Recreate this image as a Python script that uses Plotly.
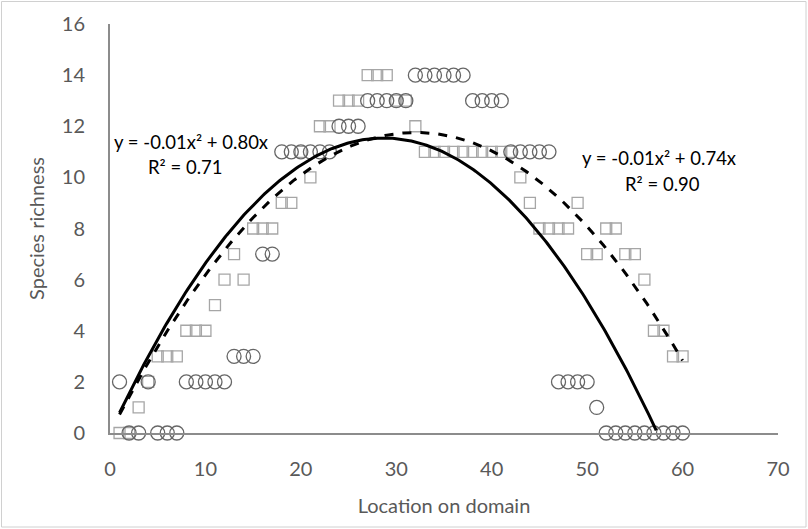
import numpy as np
import plotly.graph_objects as go

# ---- data ----
location = list(range(1, 61))

# circles (solid trend line)
richness_circles = [2, 0, 0, 2, 0, 0, 0, 2, 2, 2,
                    2, 2, 3, 3, 3, 7, 7, 11, 11, 11,
                    11, 11, 11, 12, 12, 12, 13, 13, 13, 13,
                    13, 14, 14, 14, 14, 14, 14, 13, 13, 13,
                    13, 11, 11, 11, 11, 11, 2, 2, 2, 2,
                    1, 0, 0, 0, 0, 0, 0, 0, 0, 0]

# squares (dashed trend line)
richness_squares = [0, 0, 1, 2, 3, 3, 3, 4, 4, 4,
                    5, 6, 7, 6, 8, 8, 8, 9, 9, 11,
                    10, 12, 12, 13, 13, 13, 14, 14, 14, 13,
                    13, 12, 11, 11, 11, 11, 11, 11, 11, 11,
                    11, 11, 10, 9, 8, 8, 8, 8, 9, 7,
                    7, 8, 8, 7, 7, 6, 4, 4, 3, 3]

x_ticks = [0, 10, 20, 30, 40, 50, 60, 70]
y_ticks = [0, 2, 4, 6, 8, 10, 12, 14, 16]

eq_circles = "y = -0.01x² + 0.80x"
r2_circles = "R² = 0.71"
eq_squares = "y = -0.01x² + 0.74x"
r2_squares = "R² = 0.90"


def fit_no_intercept(x, y):
    x = np.asarray(x, float)
    y = np.asarray(y, float)
    A = np.column_stack([x ** 2, x])
    coef, *_ = np.linalg.lstsq(A, y, rcond=None)
    return coef


xs = np.linspace(min(location), max(location), 300)
ca = fit_no_intercept(location, richness_circles)
cb = fit_no_intercept(location, richness_squares)
fit_circ = ca[0] * xs ** 2 + ca[1] * xs
fit_sq = cb[0] * xs ** 2 + cb[1] * xs
mask_c = fit_circ >= 0

FONT = "Lato, Carlito, Calibri, 'Open Sans', sans-serif"

fig = go.Figure()
fig.add_trace(go.Scatter(
    x=location, y=richness_squares, mode="markers",
    marker=dict(symbol="square-open", size=11, color="#a6a6a6",
                line=dict(width=1.3, color="#a6a6a6")),
    showlegend=False, cliponaxis=False))
fig.add_trace(go.Scatter(
    x=location, y=richness_circles, mode="markers",
    marker=dict(symbol="circle-open", size=14, color="#666666",
                line=dict(width=1.3, color="#666666")),
    showlegend=False, cliponaxis=False))
fig.add_trace(go.Scatter(
    x=xs[mask_c], y=fit_circ[mask_c], mode="lines",
    line=dict(color="black", width=3), showlegend=False))
fig.add_trace(go.Scatter(
    x=xs, y=fit_sq, mode="lines",
    line=dict(color="black", width=3, dash="dash"), showlegend=False))

ann_font = dict(family=FONT, size=18.5, color="black")
fig.add_annotation(x=0.2, y=11.4, text=eq_circles, showarrow=False,
                   xanchor="left", yanchor="middle", font=ann_font)
fig.add_annotation(x=7.9, y=10.4, text=r2_circles, showarrow=False,
                   xanchor="center", yanchor="middle", font=ann_font)
fig.add_annotation(x=49.2, y=10.76, text=eq_squares, showarrow=False,
                   xanchor="left", yanchor="middle", font=ann_font,
                   bgcolor="white")
fig.add_annotation(x=57.9, y=9.75, text=r2_squares, showarrow=False,
                   xanchor="center", yanchor="middle", font=ann_font,
                   bgcolor="white")

# outer chart frame
pw, ph = 668, 409
fig.add_shape(type="rect", xref="paper", yref="paper",
              x0=(1.5 - 110) / pw, x1=(806 - 110) / pw,
              y0=(433 - 527) / ph, y1=(433 - 1.5) / ph,
              line=dict(color="#d0d0d0", width=1), layer="below")

fig.update_layout(
    width=808, height=529,
    margin=dict(l=110, r=30, t=24, b=96),
    paper_bgcolor="white", plot_bgcolor="white",
    font=dict(family=FONT, color="#595959"),
    xaxis=dict(range=[0, 70], tickvals=x_ticks, showgrid=False,
               zeroline=False, showline=True, linecolor="#8c8c8c",
               linewidth=2, ticks="", tickfont=dict(size=20, color="#595959"),
               ticklabelstandoff=17, automargin=False,
               title=dict(text="Location on domain", standoff=20,
                          font=dict(size=20, color="#595959"))),
    yaxis=dict(range=[0, 16], tickvals=y_ticks, showgrid=False,
               zeroline=False, showline=True, linecolor="#8c8c8c",
               linewidth=2, ticks="", tickfont=dict(size=20, color="#595959"),
               ticklabelstandoff=19, automargin=False,
               title=dict(text="Species richness", standoff=12,
                          font=dict(size=20, color="#595959"))),
)

fig.write_html(
    "out.html",
    config={"displayModeBar": False},
    post_script="document.body.style.margin='0';document.body.style.overflow='hidden';",
)
